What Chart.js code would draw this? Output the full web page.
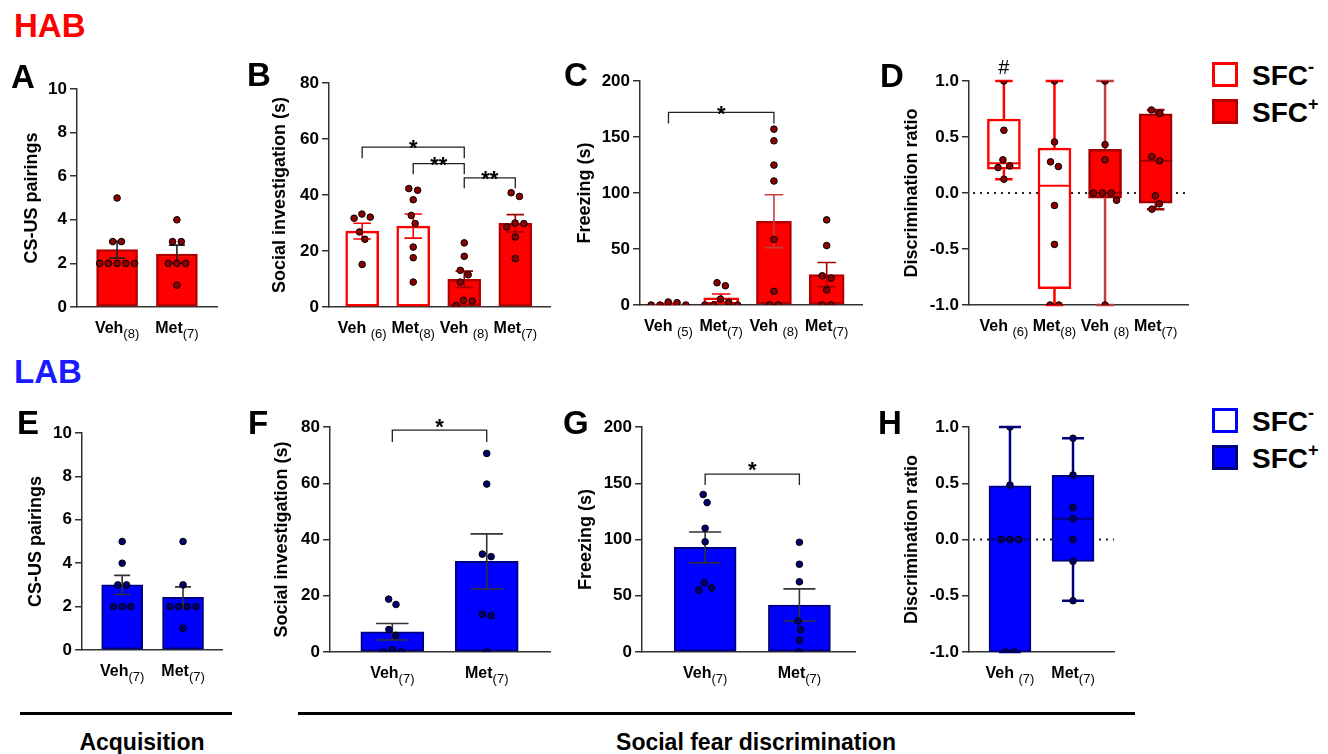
<!DOCTYPE html>
<html>
<head>
<meta charset="utf-8">
<script src="https://cdn.jsdelivr.net/npm/chart.js@4.4.1/dist/chart.umd.min.js"></script>
<style>
  body { margin: 0; background: #fff; width: 1328px; height: 754px; position: relative; overflow: hidden;
         font-family: "Liberation Sans", Arial, sans-serif; }
  canvas { position: absolute; }
  .t { position: absolute; white-space: nowrap; }
  .box { position: absolute; box-sizing: border-box; }
  .rule { position: absolute; background: #000; height: 3px; }
</style>
</head>
<body>
<script>
// ---------------- data ----------------
// HAB  A: acquisition
const aCats = ['Veh', 'Met'];
const aN = ['(8)', '(7)'];
const aMean = [2.63, 2.43];
const aSem = [0.39, 0.41];
const aPoints = [[5, 3, 3, 2, 2, 2, 2, 2], [4, 3, 3, 2, 2, 2, 1]];

// HAB  B: social investigation (SFC-, SFC-, SFC+, SFC+)
const bCats = ['Veh ', 'Met', 'Veh ', 'Met'];
const bN = ['(6)', '(8)', '(8)', '(7)'];
const bMean = [27.1, 28.9, 9.9, 29.9];
const bSem = [2.8, 4.3, 2.9, 3.1];
const bPoints = [
  [32.1, 31.7, 33.2, 26.8, 24.2, 15.2],
  [42.3, 41.7, 38.3, 32.7, 29.8, 21.4, 17.6, 8.9],
  [22.9, 18.1, 13.1, 11.5, 8.9, 2.4, 2.1, 0.6],
  [39.5, 40.8, 30.0, 29.8, 28.6, 25.0, 17.3]
];
const bSig = [[0, 2, 57.1, 53.1, '*'], [1, 2, 51.2, 47.4, '**'], [2, 3, 46.1, 42.4, '**']];

// HAB  C: freezing
const cCats = ['Veh ', 'Met', 'Veh ', 'Met'];
const cN = ['(5)', '(7)', '(8)', '(7)'];
const cMean = [1.0, 6.3, 74.8, 27.2];
const cSem = [0.6, 3.5, 23.6, 10.8];
const cPoints = [
  [2.7, 2.1, 0, 0, 0],
  [2.4, 17.2, 19.9, 5.3, 0, 0, 0],
  [157, 146.6, 124.9, 110.7, 58.5, 12.2, 0, 0],
  [76, 53.1, 26.1, 24, 13.4, 0, 0]
];
const cSig = [[0, 2, 172, 162, '*']];

// HAB  D: discrimination ratio (box plots)
const dCats = ['Veh ', 'Met', 'Veh ', 'Met'];
const dN = ['(6)', '(8)', '(8)', '(7)'];
const dMin = [0.123, -1, -1, -0.144];
const dQ1 = [0.213, -0.854, -0.046, -0.091];
const dMed = [0.266, 0.064, 0, 0.287];
const dQ3 = [0.661, 0.40, 0.39, 0.706];
const dMax = [1, 1, 1, 0.741];
const dPoints = [
  [1, 0.56, 0.296, 0.242, 0.227, 0.123],
  [1, 0.456, 0.278, 0.236, -0.111, -0.459, -1, -1],
  [1, 0.432, 0.296, 0, 0, 0, -0.065, -1],
  [0.741, 0.711, 0.325, 0.287, -0.025, -0.097, -0.144]
];
const dMarks = ['#', '', '', ''];

// LAB  E: acquisition
const eCats = ['Veh', 'Met'];
const eN = ['(7)', '(7)'];
const eMean = [3.0, 2.43];
const eSem = [0.44, 0.48];
const ePoints = [[5, 4, 3, 3, 2, 2, 2], [5, 3, 2, 2, 2, 2, 1]];

// LAB  F: social investigation
const fCats = ['Veh', 'Met'];
const fN = ['(7)', '(7)'];
const fMean = [7.2, 32.2];
const fSem = [2.95, 9.8];
const fPoints = [[16.9, 18.8, 8.0, 5.9, 0.8, 0, 0], [70.6, 59.7, 34.8, 33.9, 13.4, 12.9, 0]];
const fSig = [[0, 1, 78.9, 74.7, '*']];

// LAB  G: freezing
const gCats = ['Veh', 'Met'];
const gN = ['(7)', '(7)'];
const gMean = [93.0, 41.8];
const gSem = [13.7, 14.3];
const gPoints = [[140, 132.8, 110, 98, 61.5, 57, 55], [97.5, 78, 62.4, 27.6, 19.9, 10.4, 0]];
const gSig = [[0, 1, 158.2, 148.4, '*']];

// LAB  H: discrimination ratio
const hCats = ['Veh ', 'Met'];
const hN = ['(7)', '(7)'];
const hMin = [-1, -0.544];
const hQ1 = [-1, -0.194];
const hMed = [0, 0.185];
const hQ3 = [0.476, 0.57];
const hMax = [1, 0.90];
const hPoints = [[1, 0.484, 0, 0, 0, -1, -1], [0.9, 0.573, 0.283, 0.185, 0, -0.194, -0.544]];

// ---------------- look ----------------
const RED = '#ff0000', RED_EDGE = '#b40000', RED_DOT = '#8b0000', RED_ERR = '#a00000', RED_SOFT = '#c04040';
const BLUE = '#0000ff', BLUE_EDGE = '#000080', BLUE_DOT = '#000070';
const AX = '#333';
const PAD_TOP = 14, X_H = 42, DOT = 9;
const FONT = '"Liberation Sans", Arial, sans-serif';

Chart.defaults.font.family = FONT;
Chart.defaults.color = '#000';

function addText(html, x, base, size, color, align, weight) {
  const el = document.createElement('div');
  el.className = 't';
  el.innerHTML = html;
  el.style.fontSize = size + 'px';
  el.style.lineHeight = size + 'px';
  el.style.fontWeight = weight || 'bold';
  el.style.color = color || '#000';
  el.style.top = (base - 0.8465 * size) + 'px';
  el.style.left = x + 'px';
  if (align === 'center') el.style.transform = 'translateX(-50%)';
  document.body.appendChild(el);
}

// spread points of one category sideways so they do not overlap (like the scatter in the figure)
function swarm(chart, groups) {
  const xs = chart.scales.x, ys = chart.scales.y;
  const unit = xs.getPixelForValue(1) - xs.getPixelForValue(0);
  const out = [];
  groups.forEach((vals, i) => {
    const pts = vals.map(v => ({ v, py: ys.getPixelForValue(v), dx: 0 })).sort((a, b) => a.py - b.py);
    const clusters = [];
    pts.forEach((pt, k) => {
      if (k === 0 || pt.py - pts[k - 1].py >= DOT) clusters.push([]);
      clusters[clusters.length - 1].push(pt);
    });
    clusters.forEach(cl => {
      const placed = [];
      cl.forEach(pt => {
        for (let s = 0; ; s += 0.5) {
          const cands = s === 0 ? [0] : [s, -s];
          const ok = cands.find(dx => placed.every(q => Math.hypot(q.dx - dx, q.py - pt.py) >= DOT));
          if (ok !== undefined) { pt.dx = ok; break; }
        }
        placed.push(pt);
      });
      const lo = Math.min(...cl.map(q => q.dx)), hi = Math.max(...cl.map(q => q.dx));
      cl.forEach(pt => out.push({ x: i + (pt.dx - (lo + hi) / 2) / unit, y: pt.v }));
    });
  });
  return out;
}

function makePanel(p) {
  const padTop = p.padTop || PAD_TOP;
  const left = Math.round(p.tx - 11);
  const top = Math.round(p.yt) - padTop;
  const w = Math.round(p.xr) - left;
  const h = Math.round(p.yb) - top + X_H;
  const yW = Math.round(p.ax) - left;
  const cv = document.createElement('canvas');
  cv.width = w; cv.height = h;
  cv.style.left = left + 'px'; cv.style.top = top + 'px';
  document.body.appendChild(cv);

  const isBox = !!p.box;
  const barData = isBox
    ? p.box.q1.map((q, i) => ({ x: i, y: [q, p.box.q3[i]] }))
    : p.mean.map((m, i) => ({ x: i, y: m }));

  const deco = {
    id: 'deco',
    beforeDatasetsDraw(chart) {
      if (!isBox) return;
      const { ctx, chartArea: a, scales: { y } } = chart;
      const y0 = y.getPixelForValue(0);
      ctx.save();
      ctx.strokeStyle = '#222'; ctx.lineWidth = 1.8; ctx.setLineDash([2, 5]);
      ctx.beginPath(); ctx.moveTo(a.left + 4, y0); ctx.lineTo(a.right, y0); ctx.stroke();
      ctx.restore();
    },
    afterDatasetDraw(chart, args) {
      if (args.index !== 1) return;
      const { ctx, scales: { x, y } } = chart;
      ctx.save();
      p.cats.forEach((c, i) => {
        const cx = x.getPixelForValue(i);
        const cap = p.capW || p.barW / 2 + 1;
        ctx.strokeStyle = p.err[i];
        ctx.lineWidth = isBox ? 2.5 : 1.6;
        ctx.beginPath();
        if (isBox) {
          const b = p.box;
          const yMax = y.getPixelForValue(b.max[i]), yMin = y.getPixelForValue(b.min[i]);
          const yQ3 = y.getPixelForValue(b.q3[i]), yQ1 = y.getPixelForValue(b.q1[i]);
          ctx.moveTo(cx, yMax); ctx.lineTo(cx, yQ3);
          ctx.moveTo(cx, yQ1); ctx.lineTo(cx, yMin);
          ctx.moveTo(cx - cap / 2, yMax); ctx.lineTo(cx + cap / 2, yMax);
          ctx.moveTo(cx - cap / 2, yMin); ctx.lineTo(cx + cap / 2, yMin);
          ctx.stroke();
          ctx.strokeStyle = p.edge[i]; ctx.lineWidth = 2;
          const ym = y.getPixelForValue(b.med[i]);
          ctx.beginPath(); ctx.moveTo(cx - p.barW / 2, ym); ctx.lineTo(cx + p.barW / 2, ym); ctx.stroke();
        } else {
          const y1 = y.getPixelForValue(p.mean[i] + p.sem[i]), y2 = y.getPixelForValue(p.mean[i] - p.sem[i]);
          ctx.moveTo(cx, y1); ctx.lineTo(cx, y2);
          ctx.moveTo(cx - cap / 2, y1); ctx.lineTo(cx + cap / 2, y1);
          ctx.moveTo(cx - cap / 2, y2); ctx.lineTo(cx + cap / 2, y2);
          ctx.stroke();
        }
      });
      ctx.restore();
    },
    afterDraw(chart) {
      const { ctx, chartArea: a, scales: { x, y } } = chart;
      ctx.save();
      // category labels with subscript group size
      p.cats.forEach((c, i) => {
        const cx = x.getPixelForValue(i);
        ctx.font = 'bold 16px ' + FONT;
        const w1 = ctx.measureText(c).width;
        ctx.font = '13px ' + FONT;
        const w2 = ctx.measureText(p.subs[i]).width;
        const x0 = cx - (w1 + w2) / 2;
        const base = a.bottom + 26;
        ctx.fillStyle = '#000'; ctx.textAlign = 'left'; ctx.textBaseline = 'alphabetic';
        ctx.font = 'bold 16px ' + FONT;
        ctx.fillText(c, x0, base);
        ctx.font = '13px ' + FONT;
        ctx.fillText(p.subs[i], x0 + w1, base + 4.5);
      });
      // significance brackets
      (p.sig || []).forEach(([i, j, lvl, drop, txt]) => {
        const x1 = x.getPixelForValue(i), x2 = x.getPixelForValue(j);
        const yl = y.getPixelForValue(lvl), yd = y.getPixelForValue(drop);
        ctx.strokeStyle = '#222'; ctx.lineWidth = 1.3;
        ctx.beginPath();
        ctx.moveTo(x1, yd); ctx.lineTo(x1, yl); ctx.lineTo(x2, yl); ctx.lineTo(x2, yd);
        ctx.stroke();
        ctx.fillStyle = '#000'; ctx.textAlign = 'center'; ctx.textBaseline = 'alphabetic';
        ctx.font = 'bold 22px ' + FONT;
        ctx.fillText(txt, (x1 + x2) / 2, yl + 12.3 - p.starLift);
      });
      (p.marks || []).forEach((m, i) => {
        if (!m) return;
        ctx.fillStyle = '#000'; ctx.textAlign = 'center'; ctx.textBaseline = 'alphabetic';
        ctx.font = '20px ' + FONT;
        ctx.fillText(m, x.getPixelForValue(i), a.top - 7);
      });
      ctx.restore();
    }
  };

  const chart = new Chart(cv, {
    type: 'bar',
    data: {
      datasets: [
        { type: 'scatter', data: [], order: 1, pointRadius: 3.3, pointBackgroundColor: p.dot,
          pointBorderColor: '#000', pointBorderWidth: 1 },
        { type: 'bar', data: barData, order: 2, barThickness: p.barW, backgroundColor: p.fill,
          borderColor: p.edge, borderWidth: p.bw, borderSkipped: false }
      ]
    },
    options: {
      responsive: false,
      animation: false,
      events: [],
      layout: { padding: { top: padTop, left: 0, right: 0, bottom: 0 } },
      plugins: { legend: { display: false }, tooltip: { enabled: false } },
      scales: {
        x: {
          type: 'linear', min: p.xmin, max: p.xmax, offset: false,
          ticks: { display: false }, grid: { display: false },
          border: { display: true, color: AX, width: 1.5 },
          afterFit: s => { s.height = X_H; }
        },
        y: {
          min: p.ymin, max: p.ymax,
          ticks: { stepSize: p.step, font: { size: 17, weight: 'bold' }, color: '#000', padding: 3,
                   callback: p.fmt || (v => v) },
          grid: { drawOnChartArea: false, drawTicks: true, tickLength: 7, color: AX, lineWidth: 1.5 },
          border: { display: true, color: AX, width: 1.5 },
          title: { display: true, text: p.title, font: { size: 18, weight: 'bold' }, color: '#000',
                   padding: { top: 0, bottom: 0 } },
          afterFit: s => { s.width = yW; }
        }
      }
    },
    plugins: [deco]
  });
  chart.data.datasets[0].data = swarm(chart, p.pts);
  chart.update('none');
  return chart;
}

const ratio = v => v.toFixed(1);
const openFill = ['#fff', '#fff', RED, RED];
const openEdge = [RED, RED, RED_EDGE, RED_EDGE];

makePanel({ tx: 32, ax: 77, yt: 89.3, yb: 306.7, xr: 222, xmin: -0.67, xmax: 1.67, ymin: 0, ymax: 10, step: 2,
  title: 'CS-US pairings', cats: aCats, subs: aN, mean: aMean, sem: aSem, pts: aPoints, barW: 41, bw: 2.5, capW: 16,
  fill: [RED, RED], edge: [RED_EDGE, RED_EDGE], err: ['#222', '#222'], dot: RED_DOT });

makePanel({ tx: 280, ax: 329, yt: 82.7, yb: 306.7, xr: 555, xmin: -0.65, xmax: 3.68, ymin: 0, ymax: 80, step: 20,
  title: 'Social investigation (s)', cats: bCats, subs: bN, mean: bMean, sem: bSem, pts: bPoints, sig: bSig, starLift: 4,
  barW: 33, bw: 2.5, fill: openFill, edge: openEdge, err: [RED, RED, RED_ERR, RED_ERR], dot: RED_DOT });

makePanel({ tx: 585, ax: 640, yt: 80.7, yb: 305, xr: 867, xmin: -0.54, xmax: 3.67, ymin: 0, ymax: 200, step: 50,
  title: 'Freezing (s)', cats: cCats, subs: cN, mean: cMean, sem: cSem, pts: cPoints, sig: cSig, starLift: 3.5,
  barW: 35, bw: 2.5, fill: openFill, edge: openEdge, err: [RED, RED, RED_SOFT, RED_ERR], dot: RED_DOT });

makePanel({ tx: 912, ax: 969, yt: 81, yb: 305.3, xr: 1193, xmin: -0.69, xmax: 3.64, ymin: -1, ymax: 1, step: 0.5,
  padTop: 30, fmt: ratio, title: 'Discrimination ratio', cats: dCats, subs: dN, pts: dPoints, marks: dMarks,
  box: { min: dMin, q1: dQ1, med: dMed, q3: dQ3, max: dMax },
  barW: 33, bw: 2.5, fill: openFill, edge: [RED, RED, RED_ERR, RED_ERR], err: [RED, RED, RED_SOFT, RED_ERR], dot: RED_DOT });

makePanel({ tx: 36, ax: 82, yt: 433, yb: 650, xr: 227, xmin: -0.66, xmax: 1.64, ymin: 0, ymax: 10, step: 2,
  title: 'CS-US pairings', cats: eCats, subs: eN, mean: eMean, sem: eSem, pts: ePoints, barW: 41, bw: 2, capW: 16,
  fill: [BLUE, BLUE], edge: [BLUE_EDGE, BLUE_EDGE], err: ['#333', '#333'], dot: BLUE_DOT });

makePanel({ tx: 282, ax: 330, yt: 427, yb: 652, xr: 555, xmin: -0.66, xmax: 1.67, ymin: 0, ymax: 80, step: 20,
  title: 'Social investigation (s)', cats: fCats, subs: fN, mean: fMean, sem: fSem, pts: fPoints, sig: fSig, starLift: 8,
  barW: 63, bw: 2, fill: [BLUE, BLUE], edge: [BLUE_EDGE, BLUE_EDGE], err: ['#333', '#333'], dot: BLUE_DOT });

makePanel({ tx: 586, ax: 642, yt: 427, yb: 652, xr: 860, xmin: -0.67, xmax: 1.59, ymin: 0, ymax: 200, step: 50,
  title: 'Freezing (s)', cats: gCats, subs: gN, mean: gMean, sem: gSem, pts: gPoints, sig: gSig, starLift: 9,
  barW: 62, bw: 2, fill: [BLUE, BLUE], edge: [BLUE_EDGE, BLUE_EDGE], err: ['#333', '#333'], dot: BLUE_DOT });

makePanel({ tx: 912, ax: 969, yt: 427, yb: 652, xr: 1119, xmin: -0.65, xmax: 1.65, ymin: -1, ymax: 1, step: 0.5,
  fmt: ratio, title: 'Discrimination ratio', cats: hCats, subs: hN, pts: hPoints,
  box: { min: hMin, q1: hQ1, med: hMed, q3: hQ3, max: hMax },
  barW: 42, bw: 2, fill: [BLUE, BLUE], edge: [BLUE_EDGE, BLUE_EDGE], err: [BLUE_EDGE, BLUE_EDGE], dot: BLUE_DOT });

// ---------------- figure text ----------------
addText('HAB', 14, 37, 33, '#ff0000');
addText('LAB', 14, 383, 33, '#1a1aff');
[['A', 11, 88], ['B', 247, 86], ['C', 564, 86], ['D', 880, 87],
 ['E', 17, 434], ['F', 248, 434], ['G', 563, 434], ['H', 878, 434]]
  .forEach(([l, x, b]) => addText(l, x, b, 33));

function legendBox(x, y, fill, edge) {
  const d = document.createElement('div');
  d.className = 'box';
  Object.assign(d.style, { left: x + 'px', top: y + 'px', width: '26px', height: '25px',
    background: fill, border: '3px solid ' + edge });
  document.body.appendChild(d);
}
legendBox(1212, 62, '#fff', RED);
legendBox(1212, 99, RED, RED_EDGE);
legendBox(1212, 408, '#fff', BLUE);
legendBox(1212, 445, BLUE, BLUE_EDGE);
const sup = s => 'SFC<span style="font-size:18px;position:relative;top:-12px">' + s + '</span>';
addText(sup('-'), 1252, 86, 28);
addText(sup('+'), 1252, 123, 28);
addText(sup('-'), 1252, 432, 28);
addText(sup('+'), 1252, 469, 28);

[[20, 212], [298, 837]].forEach(([x, w]) => {
  const r = document.createElement('div');
  r.className = 'rule';
  r.style.left = x + 'px'; r.style.top = '712px'; r.style.width = w + 'px';
  document.body.appendChild(r);
});
addText('Acquisition', 142, 750, 23, '#000', 'center');
addText('Social fear discrimination', 756, 750, 23, '#000', 'center');
</script>
</body>
</html>
